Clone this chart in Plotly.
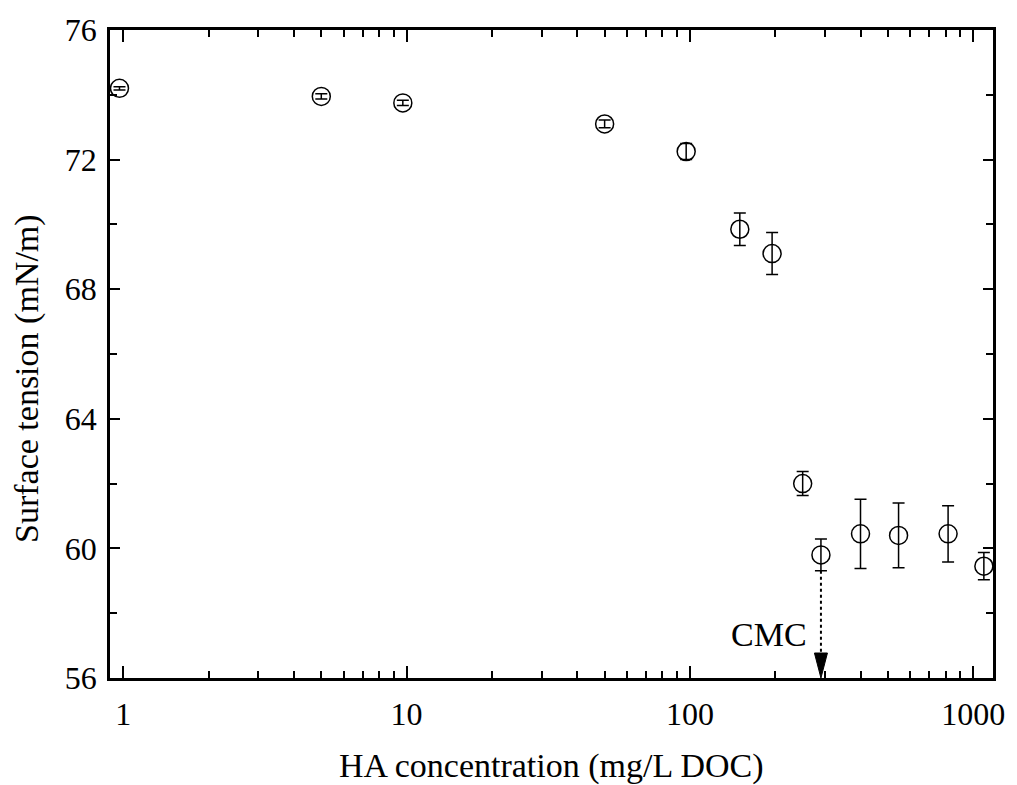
import math
import plotly.graph_objects as go

# HA concentration (mg/L DOC) and measured surface tension (mN/m) with std. deviation
ha_conc = [0.97, 5, 9.7, 50, 97, 150, 195, 250, 290, 400, 545, 815, 1090]
surface_tension = [74.2, 73.95, 73.75, 73.1, 72.25, 69.85, 69.1, 62.0, 59.8, 60.45, 60.4, 60.45, 59.45]
tension_sd = [0.05, 0.08, 0.08, 0.12, 0.25, 0.5, 0.65, 0.37, 0.49, 1.07, 1.0, 0.87, 0.42]

# critical micelle concentration marker
cmc_conc = 290
cmc_tension = 59.8
cmc_sd = 0.49

x_range = [0.898, 1174]
y_range = [56, 76]
y_ticks = [56, 60, 64, 68, 72, 76]

FONT = "Liberation Serif"

fig = go.Figure()

fig.add_trace(go.Scatter(
    x=ha_conc, y=surface_tension,
    mode="markers",
    marker=dict(symbol="circle-open", size=18, color="black", line=dict(width=1.5, color="black")),
    error_y=dict(type="data", array=tension_sd, visible=True, color="black", thickness=1.5, width=6),
    showlegend=False, hoverinfo="skip",
))

# dotted drop line from the CMC point down to the axis
fig.add_trace(go.Scatter(
    x=[cmc_conc, cmc_conc], y=[cmc_tension - cmc_sd, y_range[0] + 0.75],
    mode="lines", line=dict(color="black", width=2, dash="dot"),
    showlegend=False, hoverinfo="skip",
))

# filled arrowhead resting on the x axis
fig.add_shape(
    type="path", xref="x", yref="y",
    xsizemode="pixel", ysizemode="pixel",
    xanchor=cmc_conc, yanchor=y_range[0],
    path="M-6.5,25 L6.5,25 L0,0 Z",
    fillcolor="black", line=dict(color="black", width=1),
)

fig.add_annotation(
    x=math.log10(cmc_conc), y=57.35, xref="x", yref="y",
    text="CMC", showarrow=False, xanchor="right", yanchor="middle", xshift=-12,
    font=dict(family=FONT, size=34, color="black"),
)

# axis titles
fig.add_annotation(
    x=0.5, y=-0.136, xref="paper", yref="paper",
    text="HA concentration (mg/L DOC)", showarrow=False,
    xanchor="center", yanchor="middle",
    font=dict(family=FONT, size=34, color="black"),
)
fig.add_annotation(
    x=-0.094, y=0.463, xref="paper", yref="paper",
    text="Surface tension (mN/m)", showarrow=False, textangle=-90,
    xanchor="center", yanchor="middle",
    font=dict(family=FONT, size=34, color="black"),
)

fig.update_layout(
    width=1017, height=785,
    margin=dict(l=110, r=17, t=28, b=107),
    paper_bgcolor="white", plot_bgcolor="white",
    font=dict(family=FONT, size=32, color="black"),
    xaxis=dict(
        type="log", range=[math.log10(x_range[0]), math.log10(x_range[1])],
        dtick=1, tickformat="d",
        ticks="inside", ticklen=12, tickwidth=2, tickcolor="black",
        minor=dict(ticks="inside", ticklen=7, tickwidth=2, tickcolor="black", dtick="D1", showgrid=False),
        showline=True, linewidth=2.5, linecolor="black", mirror="ticks",
        showgrid=False, zeroline=False, ticklabelstandoff=6,
        tickfont=dict(family=FONT, size=32, color="black"),
    ),
    yaxis=dict(
        range=y_range, tickvals=y_ticks,
        ticks="inside", ticklen=10, tickwidth=2, tickcolor="black",
        minor=dict(ticks="inside", ticklen=7, tickwidth=2, tickcolor="black", dtick=2, tick0=56, showgrid=False),
        showline=True, linewidth=2.5, linecolor="black", mirror="ticks",
        showgrid=False, zeroline=False, ticklabelstandoff=4,
        tickfont=dict(family=FONT, size=32, color="black"),
    ),
)

fig.write_html("out.html")
